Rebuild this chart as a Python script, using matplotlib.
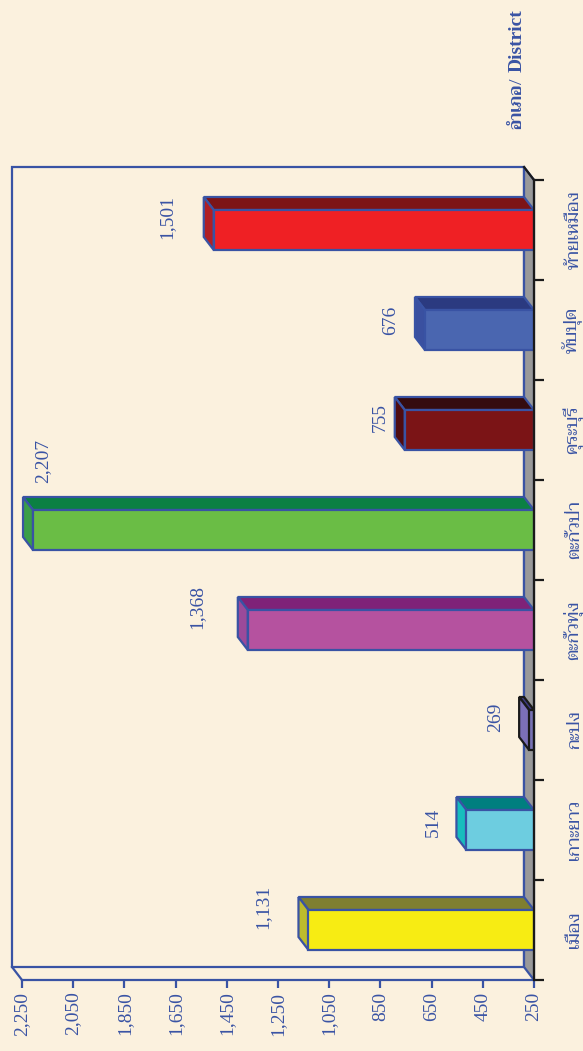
import matplotlib
matplotlib.use('Agg')
import matplotlib.pyplot as plt
from matplotlib.patches import Polygon

districts = ['เมือง', 'เกาะยาว', 'กะปง', 'ตะกั่วทุ่ง', 'ตะกั่วป่า', 'คุระบุรี', 'ทับปุด', 'ท้ายเหมือง']
values = [1131, 514, 269, 1368, 2207, 755, 676, 1501]
value_labels = ['1,131', '514', '269', '1,368', '2,207', '755', '676', '1,501']
value_ticks = [250, 450, 650, 850, 1050, 1250, 1450, 1650, 1850, 2050, 2250]

front_colors = ['#F7EC13', '#6DCDE0', '#7872B5', '#B5529F', '#6ABD45', '#7B1416', '#4A66B0', '#EF2024']
top_colors = ['#7F7F30', '#007F7F', '#3D3A80', '#7F2278', '#0B8043', '#350C10', '#2B3A80', '#7D1416']
side_colors = ['#BDBB2C', '#17BDBD', '#7B70B8', '#9B4A9A', '#3A9E48', '#4F0C10', '#3A50A0', '#B01F24']
edge_colors = ['#3953A4'] * 8
edge_colors[2] = '#1A1A1A'
# pixel nudges of the value labels from the bar end (x, y)
label_nudge = [(-46, 23), (-33, 8), (-34, 13), (-51, 23), (10, 69), (-24, 12), (-34, 10), (-47, 13)]

BLUE = '#3953A4'
BG = '#FBF1DE'
W, H = 583, 1051
LW = 1.6
bar_height = 0.4
depth_x = 39   # value units, about 10 px
depth_y = 0.13 # category units, about 13 px

plt.rcParams['font.family'] = ['Liberation Serif', 'Taviraj', 'DejaVu Sans']

fig = plt.figure(figsize=(W / 100, H / 100), dpi=100, facecolor=BG)
ax = fig.add_axes([22 / W, 1 - 980 / H, 512 / W, 800 / H])
ax.set_facecolor('none')
ax.set_xlim(2250, 250)
ax.set_ylim(-0.5, 7.5)

# back wall and floor
wall = Polygon([(250 + depth_x, -0.5 + depth_y), (2250 + depth_x, -0.5 + depth_y),
                (2250 + depth_x, 7.5 + depth_y), (250 + depth_x, 7.5 + depth_y)],
               closed=True, fill=False, edgecolor=BLUE, lw=LW, clip_on=False, zorder=1)
ax.add_patch(wall)
floor = Polygon([(250, -0.5), (250 + depth_x, -0.5 + depth_y), (250 + depth_x, 7.5 + depth_y), (250, 7.5)],
                closed=True, facecolor='#999999', edgecolor=BLUE, lw=LW, clip_on=False, zorder=1)
ax.add_patch(floor)
ax.plot([2250, 2250 + depth_x], [-0.5, -0.5 + depth_y], color=BLUE, lw=LW, clip_on=False, zorder=1)
ax.plot([250, 250 + depth_x], [7.5, 7.5 + depth_y], color='#1A1A1A', lw=LW, clip_on=False, zorder=2)

for i, v in enumerate(values):
    lo, hi = i - bar_height / 2, i + bar_height / 2
    ax.barh(i, v - 250, left=250, height=bar_height, color=front_colors[i],
            edgecolor=edge_colors[i], linewidth=LW, zorder=4)
    ax.add_patch(Polygon([(250, hi), (250 + depth_x, hi + depth_y), (v + depth_x, hi + depth_y), (v, hi)],
                         closed=True, facecolor=top_colors[i], edgecolor=edge_colors[i], lw=LW,
                         clip_on=False, zorder=3))
    ax.add_patch(Polygon([(v, hi), (v + depth_x, hi + depth_y), (v + depth_x, lo + depth_y), (v, lo)],
                         closed=True, facecolor=side_colors[i], edgecolor=edge_colors[i], lw=LW,
                         clip_on=False, zorder=3))
    ax.annotate(value_labels[i], xy=(v, i), xytext=label_nudge[i], textcoords='offset pixels',
                rotation=90, ha='center', va='center', color=BLUE, fontsize=14, annotation_clip=False)
    ax.annotate(districts[i], xy=(250, i), xytext=(49, 0), textcoords='offset pixels',
                rotation=90, ha='right', va='center', color=BLUE, fontsize=13, annotation_clip=False)

for s in ['top', 'left']:
    ax.spines[s].set_visible(False)
ax.spines['bottom'].set_color(BLUE)
ax.spines['bottom'].set_linewidth(LW)
ax.spines['right'].set_color('#1A1A1A')
ax.spines['right'].set_linewidth(LW)
ax.spines['right'].set_zorder(6)

ax.set_xticks(value_ticks)
ax.set_xticklabels([f'{t:,}' for t in value_ticks], rotation=90, color=BLUE, fontsize=14)
ax.tick_params(axis='x', color=BLUE, width=LW, length=5.8, pad=2.5)
ax.yaxis.tick_right()
ax.set_yticks([i - 0.5 for i in range(9)])
ax.set_yticklabels([])
ax.tick_params(axis='y', color='#1A1A1A', width=LW, length=7.2)

# axis title, two pieces so the Thai part does not collide with the latin one
fig.text(517 / W, 1 - 72 / H, 'District', rotation=90, ha='center', va='bottom',
         color=BLUE, fontsize=14, fontweight='bold')
fig.text(517 / W, 1 - 129 / H, 'อำเภอ/', rotation=90, ha='center', va='bottom',
         family=['Trirong', 'Liberation Serif'], color=BLUE, fontsize=12.5, fontweight='bold')

fig.savefig('out.png', dpi=100, facecolor=BG)
